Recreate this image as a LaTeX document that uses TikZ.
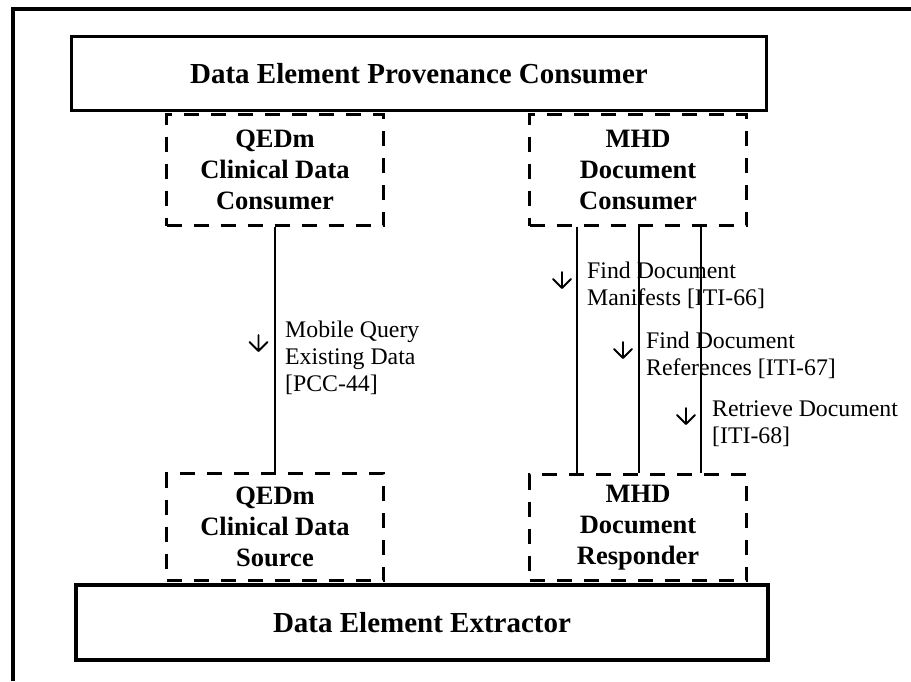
\documentclass[tikz,border=0pt]{standalone}
\usepackage{fontspec}
\setmainfont{Liberation Serif}
\usepackage{tikz}

\begin{document}
\begin{tikzpicture}[x=1pt, y=-1pt,
    actor/.style={draw, line width=3.5pt, font=\bfseries\fontsize{29}{34}\selectfont},
    grouped/.style={draw, line width=3pt, dash pattern=on 15pt off 12pt, align=center,
        minimum width=217pt, font=\bfseries\fontsize{26.5}{31}\selectfont},
    txn/.style={line width=2pt},
    txnlabel/.style={anchor=north west, align=left, inner sep=0pt, font=\fontsize{23.8}{27}\selectfont},
    txnmark/.style={line width=1.8pt, line cap=round, line join=round}]
    % Page size and outer frame
    \useasboundingbox (0,0) rectangle (911,681);
    \draw[line width=4pt] (13,681) -- (13,9) -- (911,9);

    % Outer actors
    \node[actor, minimum width=695pt, minimum height=74pt] (provenance consumer) at (419,73.5) {Data Element Provenance Consumer};
    \node[actor, minimum width=692pt, minimum height=75pt] (element extractor) at (422,622.5) {Data Element Extractor};

    % Grouped actors
    \node[grouped, minimum height=111pt] (qedm consumer) at (275,170) {QEDm\\Clinical Data\\Consumer};
    \node[grouped, minimum height=107pt] (qedm source) at (275,527) {QEDm\\Clinical Data\\Source};
    \node[grouped, minimum height=111pt] (mhd consumer) at (638,170) {MHD\\Document\\Consumer};
    \node[grouped, minimum height=106pt] (mhd responder) at (638,527.5) {MHD\\Document\\Responder};

    % Transactions
    \draw[txn] (qedm consumer) -- (qedm source);
    \draw[txn] ([xshift=-61pt]mhd consumer.south) -- ([xshift=-61pt]mhd responder.north);
    \draw[txn] ([xshift=1pt]mhd consumer.south) -- ([xshift=1pt]mhd responder.north);
    \draw[txn] ([xshift=63pt]mhd consumer.south) -- ([xshift=63pt]mhd responder.north);

    % Direction marks (tip of each mark)
    \coordinate (pcc arrow) at (258.5,351);
    \coordinate (iti66 arrow) at (562,288);
    \coordinate (iti67 arrow) at (623,358);
    \coordinate (iti68 arrow) at (686,424);
    \foreach \tip in {pcc arrow, iti66 arrow, iti67 arrow, iti68 arrow}
        \draw[txnmark] (\tip) -- ++(0,-16) (\tip) ++(-9,-9) -- (\tip) -- ++(9,-9);

    % Transaction labels
    \node[txnlabel] (pcc label) at (285,321) {Mobile Query\\Existing Data\\{[PCC-44]}};
    \node[txnlabel] (iti66 label) at (587,262) {Find Document\\Manifests [ITI-66]};
    \node[txnlabel] (iti67 label) at (646,332) {Find Document\\References [ITI-67]};
    \node[txnlabel] (iti68 label) at (712,401) {Retrieve Document\\{[ITI-68]}};
\end{tikzpicture}
\end{document}
